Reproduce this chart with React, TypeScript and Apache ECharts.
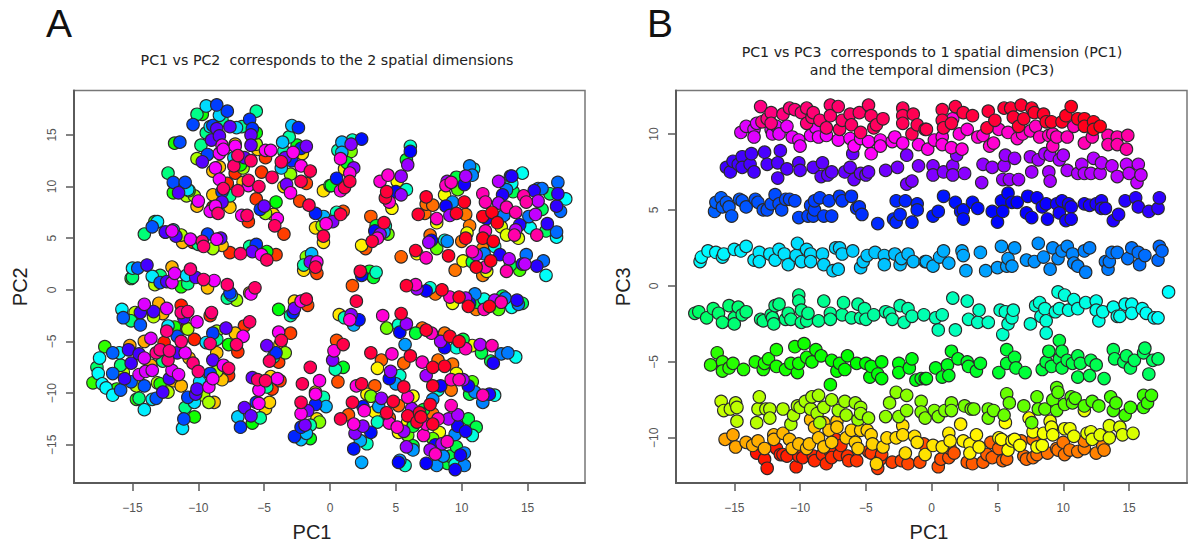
import React, { useEffect, useRef } from "react";
import * as echarts from "echarts";

type P = number[];

const xTicks = [-15, -10, -5, 0, 5, 10, 15];
const pc2Ticks = [-15, -10, -5, 0, 5, 10, 15];
const pc3Ticks = [-10, -5, 0, 5, 10];

// Panel A: [PC1, PC2, band]
const pcaTopLeft: P[] = [
[-9.4,17.8,5],[-8.6,17.9,6],[-7.8,17.3,6],[-10.1,17,4],[-9.7,17,3],[-8.4,16.9,5],[-5.6,17.3,4],[-10.4,16,6],[-8.2,16.4,4],[-6.1,16.5,6],[-8.9,15.9,6],[-6.7,15.8,4],[-7.6,15.8,7],[-7.1,15.7,5],[-5.9,15.6,6],[-9.4,15.2,4],[-9.1,15.8,5],[-8.6,15.6,7],[-8.4,14.9,7],[-9,14.5,7],[-6,15,7],[-5.6,15.2,3],[-11.4,14.3,6],[-11.8,14.2,3],[-9.8,14,4],[-9.3,13.1,6],[-9.7,12.4,7],[-10.1,12.7,2],[-8.2,14,8],[-7.2,14.1,1],[-7.2,13.9,8],[-5.6,14.1,2],[-6,14,7],[-5.5,13.6,1],[-4.9,13.5,8],[-4.5,13.5,8],[-4.9,12.8,0],[-8.4,13.2,8],[-8.1,13.6,8],[-7,13,9],[-6.5,12.8,7],[-6,12.5,9],[-7.3,12.8,5],[-6.6,11.8,2],[-6.8,12.1,3],[-7.3,12,9],[-7.2,11.3,0],[-8.7,11.8,8],[-8.4,11.9,1],[-8.9,11.5,1],
[-3.6,14.3,5],[-2.9,15.9,5],[-2.4,15.7,6],[-3.1,14.8,4],[-2.5,14,3],[-1.8,13.9,7],[-2.2,13.7,6],[-3.5,13.4,4],[-2.8,13.3,8],[-2.1,13.2,1],[-3.4,12.8,7],[-2.9,12.5,6],[-3.7,12.4,9],[-3.7,11.8,5],[-2.2,12,8],[-1.5,11.5,9],[-3,11.2,2],[-4.4,10.9,9],[-5.2,11.4,0],[-6.2,10.6,9],[-6.2,10.1,8],[-6.6,10.4,1],[-5.4,10,9],[-7,9.6,9],[-8.4,10.7,8],[-8.1,9.8,9],[-7.8,10.3,0],[-8.2,9.5,6],[-7.6,9.1,4],[-8.9,9.2,1],[-8.2,8.5,7],[-7.6,8,1],[-8.7,8.1,8],[-9.1,7.6,8],[-8.5,7.4,9],[-8.9,8,0],[-3.3,10.2,7],[-3,9.4,8],[-3.5,10,1],[-2.2,10.5,9],[-1.8,10.3,0],[-5.6,8.8,0],[-5,8.1,7],[-5.3,7.8,6],[-4.1,8.5,3],[-4.9,7.4,2],[-4.3,7.3,1],[-4,6.9,8],[-4.2,6.2,9],[-3.5,5.4,0],[-6.3,7.2,9],[-6.7,7.2,8],[-6.2,6.6,0],[-2.3,8.6,0],[-1.6,8.2,9],[-1.1,7.4,6],[-0.5,7.1,5],[-1.1,6,1],[-0.6,6.2,2],[-0.3,6.4,8],[-0.5,5.2,9],[-0.5,4.6,1],[-0.5,9.6,1],[0,10.1,3],
[-12.3,11.3,4],[-11.9,10.4,6],[-11,10.4,6],[-10.8,9.7,5],[-11.9,9.4,3],[-11.5,9.4,7],[-10.7,9.6,3],[-10.9,9.1,2],[-10.3,9.1,2],[-10,8.6,8],[-10.1,8.1,1],
[-13.3,6.6,3],[-13.1,6.6,5],[-13.5,6.1,6],[-14.1,5.4,4],[-12.5,5.6,3],[-12.5,5.6,7],[-11.9,5.8,5],[-12,5.7,8],[-11.7,5.2,7],[-11.3,5.3,2],[-11.2,4.6,1],[-10.6,4.9,8],[-10.4,4.6,0],[-10,4.4,4],[-9.7,4.7,9],[-9.6,4.2,9],[-9.3,5.4,6],[-8.9,4,2],[-8.6,4.9,8],[-8.3,5,7],[-8.2,4.3,1],[-7.6,3.6,0],[-6.8,3.5,9],[-6.1,4.2,4],[-5.6,4.4,6],[-5.9,3.7,7],[-5.2,3.4,8],[-4.8,3.7,3],[-4.8,2.9,9],[-4.1,3.4,0],[-1.4,3.5,5],[-2,2.4,4],[-1.5,2.7,7],[-2,1.9,1],[-1.1,2.2,9],[-1,1.6,0],[-1.8,3.2,2],[-1,2.7,8],
[-15,2.1,5],[-14.6,2.1,6],[-13.9,2.4,7],[-15.1,1.1,3],[-15,1.2,4],[-13.5,1.3,5],[-12.9,1.4,4],[-12,2.2,1],[-11.8,1.6,8],[-12,0.7,8],[-12.9,0.7,6],[-12.4,0.8,7],[-13.3,0.5,2],[-11.3,0.3,3],[-10.6,2,9],[-10.9,1.4,5],[-10.8,0.6,4],[-10.2,1.2,7],[-9.6,1,9],[-8.8,0.9,8],[-9.3,0.2,1],[-7.8,0.5,9],[-5.7,0.2,9],
];

const pcaBottomLeft: P[] = [
[-7.6,-0.3,6],[-7.8,-0.8,4],[-7.1,-1,2],[-7.5,-0.5,5],[-6,-0.4,8],[-6.1,-0.3,1],[-2.7,-1.1,1],[-1.8,-0.9,9],[-2.2,-1.1,8],[-1.7,-1.5,0],[-2.7,-1.8,7],[-2.8,-2.2,6],[-3,-2.5,4],[-3.9,-1.9,3],
[-15.8,-1.9,5],[-15.7,-2.7,6],[-15.1,-3,4],[-14.8,-2.2,2],[-14.1,-1.4,8],[-14.4,-2.2,7],[-14.4,-3.4,6],[-13,-1.3,1],[-13.4,-2.1,7],[-13.4,-2.6,2],[-12.7,-2.3,1],[-12.4,-1.8,8],[-11.3,-1.5,0],[-11.3,-2.2,9],[-10.8,-2.1,9],[-11.1,-2.7,7],[-10.1,-3.1,8],[-10.9,-3.7,0],[-10.8,-3.8,2],[-12.3,-3.5,5],[-11.8,-3.6,3],[-12.4,-4,9],[-11.6,-4.5,6],[-11.3,-5,9],[-10.3,-4.8,0],[-9,-2.2,9],[-9.1,-2.5,0],[-6.1,-3.1,9],[-6.5,-3.5,0],[-7.9,-3.7,7],[-8.6,-4,2],[-8.9,-4.2,6],[-7.2,-4.2,1],[-6.6,-4.5,8],[-7.1,-5.3,9],[-7.7,-5.3,3],[-7,-6,0],[-9.1,-5.2,9],[-8.6,-4.8,4],[-9.4,-5.1,5],[-8.6,-6.1,1],[-8.9,-6.8,7],[-8.1,-7.3,8],[-7.7,-7.6,9],[-7.7,-8.3,0],[-8.2,-8.7,1],[-8.6,-7.9,2],[-8.9,-8.6,8],[-9.1,-8.1,6],[-10.4,-7.1,9],[-10,-7.9,9],[-9.9,-8.9,5],[-9.2,-9.4,8],[-10.1,-9.6,7],[-10.2,-10.1,7],[-10.8,-10.4,6],[-9.6,-10.2,2],[-10.3,-10.9,5],[-8.8,-10.9,1],[-9.2,-10.9,2],[-11,-11.4,4],[-11.1,-12.5,6],[-10.3,-12.3,3],[-11.2,-13.4,5],
[-17.1,-5.5,3],[-17.5,-6.6,5],[-17.7,-7.5,4],[-17.6,-8.1,5],[-18,-9,3],[-17.3,-9.1,5],[-17,-9.5,5],[-16.5,-10.2,5],[-16.5,-6.1,6],[-16.5,-8.1,6],[-16,-6.1,5],[-15.9,-7.3,4],[-15.9,-9.7,6],[-15.6,-8.6,7],[-15.1,-7.1,7],[-15.3,-5.8,7],[-15.2,-5.4,1],[-15.7,-8,2],[-16.2,-9.6,3],[-15.1,-8.9,6],[-14.7,-9.3,2],[-14.5,-6.2,7],[-14.1,-6.6,8],[-14.1,-5,1],[-13.5,-7.8,8],[-14,-7.9,8],[-13.6,-7.3,1],[-14.5,-8.2,8],[-14.1,-9.3,6],[-13.6,-4.7,8],[-12.9,-5.8,9],[-12.6,-5.1,0],[-12.2,-5.9,9],[-12.3,-6.8,9],[-12.7,-6.9,4],[-13.2,-6.1,9],[-11.6,-6.1,7],[-11,-6.1,8],[-10.7,-6.6,1],[-12,-7.8,8],[-11.5,-8.2,8],[-12.2,-8.6,7],[-13.1,-9,2],[-12.9,-9.1,3],[-11.9,-8.8,1],[-11.3,-9.3,1],[-12.7,-9.9,7],[-12.3,-9.9,2],[-13.5,-10.6,5],[-13.2,-10.5,6],[-14.7,-10.6,3],[-14.5,-10.5,4],[-14.1,-11.6,5],
[-5.9,-8.5,7],[-5.5,-8.7,9],[-4.9,-8.8,9],[-4.5,-8.4,1],[-4,-8.6,8],[-3.8,-8.8,0],[-5.4,-9.7,8],[-4.4,-9.6,0],[-4.8,-9.4,4],[-5.6,-10.9,6],[-5.4,-11,8],[-4.6,-10.9,1],[-4.9,-11.5,1],[-6.5,-11.4,7],[-7,-12.3,5],[-6,-12.2,7],[-5.3,-12.4,4],[-5.9,-12.9,3],[-6.8,-13.3,6],[-4.8,-5.4,7],[-3.7,-4.9,9],[-3.9,-4.1,8],[-3,-4.2,0],[-3.8,-5.3,1],[-3.4,-6.1,2],[-4.1,-6.1,6],[-4.3,-6.5,4],[-4.6,-6.9,9],[-3.9,-7,0],[-1.5,-7.5,9],[-2.1,-9.1,9],[-0.8,-8.8,8],[-1.1,-10.1,8],[-1.1,-9.9,1],[-2.2,-10.9,9],[-1.1,-11.1,6],[-0.5,-10.4,4],[-0.3,-11.3,5],[-1.7,-11.7,7],[-2.2,-12,8],[-0.8,-12.8,2],[-1.9,-13.1,7],[-2.2,-13.3,6],[-1.8,-13.9,5],[-1.5,-14.4,3],[-2.7,-14.2,6],[-2.2,-14.5,5],[-1,-12.5,1],[-1.5,-13.1,4],
];

const pcaTopRight: P[] = [
[2.4,14.6,6],[0.9,14.3,5],[1.6,14.1,7],[1.7,14.5,4],[0.6,13.5,4],[0.9,13.3,5],[1.6,13.4,2],[0.8,12.7,8],[1.3,12.3,3],[1.8,11.8,7],[1.1,11.7,1],[1.5,11.3,8],[0.5,10.8,6],[1.5,10.5,9],[1.1,9.9,9],[0.8,9.6,8],[0.1,10.1,3],
[6.1,13.9,4],[6.1,13.4,6],[5.8,12.6,3],[5.9,12.1,7],[5.4,11,7],[4.4,11.1,8],[3.8,10.5,8],[5.8,9.7,4],[5.4,9.2,7],[5,9.5,6],[5.1,10.5,1],[4.3,9.5,9],[4.2,8.9,9],[4.5,8.5,8],[4.7,7.9,1],
[10.6,12,5],[10.9,11.7,4],[10.8,11.1,5],[10.3,11,7],[10.2,10.2,6],[9.6,10.9,3],[8.9,10.5,7],[8.8,10.1,8],[9.2,10.4,8],[9.7,9.7,2],[8.7,9.2,1],[7.3,9,9],[7.3,8.3,0],[7.8,8.2,0],[6.7,7.3,9],[7.2,7.4,0],[8.1,6.9,8],[8.1,6.5,1],[8.8,8.1,6],[9.3,8.5,5],[10.2,8.5,9],[9.1,7.2,7],[9.6,7.4,9],[10.3,7.3,0],[10.6,6.2,0],[10.4,5.5,1],[10.3,5,9],[10,4.7,0],
[3.1,7.1,0],[4.1,6.5,9],[4.2,6.2,4],[3.5,6.2,3],[3.4,5.7,6],[3.8,5.4,7],[4.1,5.6,5],[3.6,5,8],[4.4,5.4,2],[3.2,4.7,9],[2.4,4.3,1],[2.7,4,0],[1,7.6,0],[0.5,7.5,4],[0.8,7.3,9],[0.2,6.6,7],
[7.6,5.3,0],[7.5,4.6,7],[7.7,4.8,6],[8.1,4,2],[8.7,4.8,4],[8.9,4.7,5],[5.4,3.2,0],[6.5,3.8,9],[6.6,3.5,1],[7.3,3.1,8],[9,3.3,9],[10.8,3.7,8],[11.1,3.4,7],[11.6,4,0],[11.7,3.5,5],[12.5,4.2,4],[12.9,3.4,6],[12.2,2.8,9],[13.6,3,7],[10.1,2.8,1],[10.8,2.7,3],[11.1,2.2,9],[11.8,2.2,8],[11.9,1.8,1],[11.6,1.4,0],[9.5,1.9,0],[13.4,1.8,8],[14.4,1.9,2],[14.9,3.4,5],[14.6,2.5,6],[14.8,2.5,7],[15.7,2.3,6],[16.2,2.8,5],[16.4,1.4,4],[13.7,2.4,3],
[11.6,9.3,8],[11.8,8.5,8],[12.8,10.5,7],[13.8,11,6],[13.7,11,5],[14.6,11.3,4],[13.8,10.3,4],[13.4,9.7,5],[13.9,9.5,3],[13.1,9.2,6],[12.8,8.4,7],[12.3,7.5,9],[11.6,7.1,9],[11.9,6.9,6],[12.7,6.5,9],[13.4,8,8],[13.2,7.2,5],[13,6.1,1],[14.1,7.5,8],[14.7,9.1,8],[14.9,8.5,8],[15.5,9.6,6],[15.8,9.8,5],[16.1,9.8,5],[15.8,8.6,7],[16.7,9.3,3],[17.3,10.4,5],[17.3,9.3,6],[17.9,8.8,4],[17.2,8.1,6],[17.5,7.6,5],[16.1,7.8,3],[15.6,7.3,7],[15.1,7.1,5],[14.4,6.3,6],[15.2,6,4],[14.1,5.8,7],[16.5,6.4,6],[16.4,5.7,3],[17.2,5.6,5],[17.2,5.1,4],[15.7,5.3,8],[14,5.3,8],[14.3,5,1],[13.4,5.3,1],[11.6,5,9],[12.4,4.7,9],[11.8,5.7,8],
[2.3,1.8,9],[3.5,1.7,4],[3,1.8,3],[2.4,1.4,6],[3.3,1.2,3],
];

const pcaBottomRight: P[] = [
[1.7,0.4,0],[2,-1.1,9],[0.7,-2.4,1],[1.6,-2.4,7],[2.2,-2.9,6],[1.5,-2.9,8],[1.8,-3.4,5],[1.1,-2.7,4],[4,-2.5,8],[4.3,-3.7,2],[5.4,-2.3,9],[5.8,-3.3,7],[5.3,-4.1,6],[5.2,-3.4,4],[6.5,-4.2,3],[5.7,-5.3,5],[7.3,-3.9,9],[7.7,-4.2,8],[7,-3.7,0],
[5.8,0.4,9],[6.5,0.5,8],[6.6,0.1,7],[7.3,-0.1,6],[7.6,0.2,4],[8,-0.4,0],[8.5,0,9],[9.1,-0.7,8],[9.3,-1.3,1],[9.8,-0.7,9],[10.3,-0.8,7],[10.6,-1.3,6],[10.5,-1.6,9],[11,-0.4,5],[11.1,-1.9,0],[11.2,-1.2,3],[11.7,-0.9,4],[11.7,-1.9,8],[12.1,-1.6,9],[12.8,-1.9,2],[13.1,-0.6,3],[13.3,-0.8,5],[12.5,-1,7],[13,-1.2,8],[13.8,-1.7,4],[14.2,-1,6],[14.3,-1.4,5],[14.6,-1.3,3],
[8.7,-4.2,0],[9.1,-4.5,9],[8.4,-5,7],[8.7,-5.6,6],[9.6,-5.6,4],[9.8,-5,9],[10.1,-4.8,3],[10.3,-5.7,8],[10.8,-5.4,1],[11.4,-5.3,7],[12.3,-5.4,8],[11.5,-6.1,3],[12.4,-7.1,6],[12.2,-6.9,3],[13,-6.2,5],[13.5,-6.1,5],[14.1,-6.5,4],
[3.1,-6.1,9],[4.7,-6.2,8],[3.9,-6.8,0],[3.6,-7.6,1],[6.1,-6.4,9],[5.6,-7.1,0],[7,-7,8],[4.6,-7.9,7],[4.5,-8.6,6],[5.3,-8.3,4],[5,-9.1,5],[5.6,-9.4,9],[5.9,-10.4,8],[6.3,-10.3,1],[8.2,-6.8,0],[7.8,-7.5,9],[8.7,-7.4,9],[9.3,-7.2,0],[7.3,-8.3,7],[9.6,-8.1,1],[9.2,-8.7,8],[9.8,-8.7,8],[10.1,-8.7,7],[10.8,-8.9,2],[10.5,-9.3,6],[7.8,-9.3,9],[8.4,-9.3,6],[9.2,-9.7,0],[8.2,-9.7,4],[11,-9.9,5],[10.6,-10.1,3],[11.6,-10.2,8],[12.1,-10.1,6],[12.5,-10.2,4],[11.6,-10.9,5],
[0.6,-8.9,0],[1,-5.3,9],[0.5,-4.9,0],[0.3,-5.9,8],[0.2,-6.8,7],[1,-7.5,3],[0.4,-7.7,4],[2.4,-9.1,9],[2,-9.3,8],[3.4,-9.3,0],[3.1,-10.3,2],[2.8,-10.1,1],[3.9,-10.5,7],[1.7,-10.9,9],[2.5,-11.3,6],[2.6,-11.7,8],[3.7,-11.3,5],[3.4,-11.8,1],[4.8,-10.8,9],[5.2,-11.2,0],[4.3,-11.9,9],[4.5,-12.4,0],[3.6,-12.8,4],[0.8,-12.5,9],[1.4,-12.1,0],[1.8,-13,8],[2.5,-13.2,7],[1.9,-13.9,7],[3.1,-13.8,6],[2.3,-14.6,5],[2.8,-14.9,4],[1.8,-15.4,6],[2.4,-16.7,5],
[4.5,-12.9,8],[5.1,-13.3,8],[5.6,-13.7,7],[5.2,-13.8,1],[5.9,-14.1,2],[6.2,-11.5,7],[5.9,-12.2,9],[5.9,-12.8,1],[6.3,-13.2,3],[6.8,-11.9,9],[6.9,-12.3,9],[6.6,-12.8,9],[7.1,-11.6,3],[7.6,-11.1,9],[7.8,-10.6,5],[7.8,-12,0],[8.2,-12.5,8],[7.8,-13,9],[7.3,-13,8],[7.1,-14.1,8],[9.2,-11.2,8],[9.7,-12.1,7],[9,-12.5,7],[10.5,-12.5,3],[9.7,-13.2,6],[11.1,-13.3,3],[10.3,-13.7,6],[9.5,-14,5],[10.8,-14.1,4],[8.3,-13.8,1],[7.8,-14.4,2],[8.9,-14.7,8],[8.5,-14.9,7],[8,-15,6],[9.6,-15.2,3],[5.8,-15.2,7],[6.3,-15.5,5],[6.3,-15.1,3],[7.6,-15.5,7],[8,-15.9,8],[8.6,-16.1,5],[9.1,-16.1,3],[9.9,-16,6],[10.2,-15.8,5],[5.2,-16.7,6],[5.7,-17,4],[5.3,-16.5,5],[7.3,-16.8,6],[8.1,-17,5],[8.9,-16.8,3],[9.5,-17.4,6],[9.5,-16.9,4],[10.2,-17,5],
];

// Panel B: [PC1, PC3] by band
const pc3Band0: P[] = [
[-13.3,-11],[-12.7,-11.4],[-12.5,-12],[-11.8,-10.7],[-11.5,-11.1],[-11.3,-11.1],[-11,-11.2],[-10.3,-11.9],[-10.1,-11.2],[-9.8,-11.3],[-9,-11.2],[-8.9,-11.5],[-8.3,-11.1],[-8,-11.7],[-7.7,-10.9],[-7.6,-11.3],[-7.3,-10.1],[-6.9,-10.5],[-7,-11.1],[-6.4,-11.2],[-6.3,-11.5],[-5.7,-11.5],[-4.8,-10.9],[-4.6,-11],[-4.1,-12],[-3.8,-11.1],[-3.9,-11.4],[-3,-11.6],[-2.3,-11.5],[-1.8,-11.7],[-0.9,-11.6],[-0.6,-10.4],
[0.5,-11.9],[0.7,-11.4],[1.4,-10.7],[1.7,-11],[1.3,-11.3],[2.7,-11.6],[3.1,-11.7],[3.9,-11.6],[4.2,-11.1],[4.6,-11.3],[4.5,-10.3],[5.1,-10.7],[5.4,-11.5],[5.7,-11.4],[6.8,-10.2],[7,-11.2],[7.2,-11.4],[7.7,-10.1],[7.7,-11.3],[8,-11.1],[8.8,-11],[9.5,-10.7],[9.6,-10.8],[10.1,-11.1],[10,-10.3],[10.5,-10.8],[11.1,-10.9],[11.6,-10.7],[11.6,-10.2],[12.5,-11],[13,-10.5],[13.1,-10.8],
];
const pc3Band1: P[] = [
[-15.7,-10.1],[-15.1,-9.8],[-14.9,-10.6],[-14.1,-10.3],[-13.6,-10.5],[-13.2,-10.2],[-12.7,-10.7],[-12,-9.8],[-12,-10.1],[-11.3,-9.7],[-10.8,-10.1],[-10.1,-10.4],[-10.6,-10.7],[-9.5,-10.7],[-9.3,-10.4],[-8.6,-10],[-9.2,-8.8],[-8.9,-9.3],[-8.2,-9],[-7.8,-9.5],[-7.6,-10.3],[-8.2,-10.6],[-7.2,-8.9],[-7.2,-9.3],[-6.5,-10],[-6.1,-9.5],[-5.8,-10.3],[-5.6,-10.7],[-5.4,-9.5],[-4.9,-9.5],[-4.6,-9.8],[-4.5,-10.4],[-3.7,-10.6],[-4.2,-11.7],[-3.4,-10],[-2.7,-10],[-2.2,-9.2],[-2.2,-9.8],[-1.3,-9.9],[-1.1,-10.3],[-2,-11],[-0.5,-11.1],
[0.1,-10.5],[0.8,-10.6],[1.4,-10.2],[1.3,-9.7],[2.2,-9.1],[2.4,-10.2],[2.9,-10.4],[2.9,-11],[3.4,-9.8],[3.6,-10.6],[5.1,-10],[5.3,-10.1],[5.8,-10.8],[6.1,-10.2],[6.3,-10.1],[6.7,-10.5],[5.6,-9],[7.4,-8.7],[7.7,-9.6],[8,-10.6],[8.4,-10.5],[8.5,-9.7],[9,-8.9],[9.1,-9.3],[9.2,-9.8],[10.1,-9.4],[10.5,-9.4],[10.8,-9.9],[11.8,-9.7],[12.1,-9.6],[12.2,-10.1],[12.8,-9.8],[13.5,-10],[13.5,-9.2],[14.3,-9.3],[14.5,-9.8],[15.3,-9.7],[11.6,-8.2],
];
const pc3Band2: P[] = [
[-16,-7.6],[-15.8,-8.2],[-15.3,-8.1],[-14.9,-7.7],[-14.8,-8],[-14.8,-8.9],[-13.3,-9],[-13.2,-8.1],[-13.1,-7.3],[-12.6,-8.1],[-12.3,-8.1],[-12.3,-8.7],[-11.3,-8.1],[-10.5,-8.5],[-10.7,-9.1],[-10.2,-7.9],[-10,-8],[-9.6,-7.6],[-9.1,-7.3],[-9.2,-8.1],[-8.6,-7.2],[-8.7,-8.4],[-8.2,-8],[-8.5,-9],[-7.6,-7.5],[-7.1,-8.2],[-6.5,-8.5],[-6.6,-7.6],[-5.8,-7.7],[-5.4,-8],[-5.4,-8.4],[-5.6,-8.8],[-4.8,-8.7],[-3.2,-7.7],[-3.5,-8.6],[-2.7,-7],[-2.5,-8.6],[-1.9,-7.2],[-1.9,-8.2],[-0.8,-7.6],[-0.8,-8.3],[-0.5,-8.7],
[0.2,-8.2],[0.5,-8.6],[1,-8.2],[1.5,-7.7],[1.5,-8.2],[2.5,-7.9],[3,-8.1],[3.2,-8.1],[4.3,-8.1],[4.7,-8.2],[4.3,-8.7],[5.5,-8.5],[5.7,-7.1],[5.9,-7.7],[7,-7.9],[7.6,-9],[8,-7.3],[8.1,-8.1],[8.6,-8.1],[9.2,-7.5],[9.5,-8.2],[9.5,-6.7],[9.6,-7],[10.1,-7.8],[10.6,-7.3],[10.7,-7.7],[10.9,-7.4],[11.6,-7.9],[12.2,-7.6],[12.7,-7.9],[13.6,-7.3],[14,-7.7],[13.8,-8.2],[14.7,-8.5],[15.1,-8],[16.1,-8],[16.1,-7.2],[16.4,-7.7],[16.7,-7.2],
];
const pc3Band3: P[] = [
[-16.8,-5.2],[-16.3,-4.4],[-15.9,-5],[-15.9,-5.6],[-15.4,-5.4],[-15.1,-5.1],[-14.3,-5.5],[-13.4,-5],[-12.8,-5.5],[-12.7,-5.1],[-12.4,-4.8],[-11.8,-4.2],[-11.8,-5.3],[-11.1,-5.5],[-10.7,-5.1],[-10.4,-4],[-9.7,-3.8],[-10.1,-5.1],[-10.2,-5.7],[-9.5,-4.7],[-9.1,-5],[-8.8,-4.2],[-8.4,-4.6],[-7.6,-4.9],[-7.2,-5.6],[-7,-5.1],[-6.6,-5.5],[-6.4,-4.6],[-5.7,-5.1],[-5,-5.1],[-4.6,-5.3],[-4.7,-6],[-4.1,-5.8],[-3.8,-5],[-3.8,-6.1],[-2.5,-5.1],[-2.5,-5.7],[-1.7,-5.4],[-1.5,-4.8],[-1.2,-6.2],[-0.8,-6.1],[-0.5,-6.1],[-7.7,-6.5],
[-0.4,-6.1],[0.3,-5.4],[1.2,-5.2],[0.8,-6],[1.3,-5.9],[1.5,-4.3],[2,-4.8],[2.7,-5],[2.8,-5.3],[3.4,-5.6],[3.7,-5.1],[5.1,-5.7],[5.7,-4.2],[6.3,-4.7],[5.7,-5.1],[6.4,-5.4],[7.1,-5.7],[8.4,-5.5],[8.9,-4.3],[9.1,-5.3],[8.7,-5],[9.7,-3.6],[9.9,-4.3],[9.9,-5.4],[9.7,-4.8],[10.3,-4.9],[10.7,-5.1],[11.1,-4.6],[11.3,-5.1],[11.1,-6],[12.1,-4.9],[12,-5.9],[12.5,-5.2],[13.1,-6.1],[13.8,-4.2],[13.9,-4.8],[14.6,-5],[14.8,-4.6],[15.1,-5.4],[15.4,-4.9],[16.1,-4.4],[16.2,-4.1],[16.8,-4.9],[17.2,-4.8],[16.5,-5.8],
];
const pc3Band4: P[] = [
[-18,-1.8],[-17.7,-1.7],[-17.1,-2.1],[-16.6,-1.5],[-16.2,-1.8],[-15.9,-2.4],[-15.4,-1.3],[-14.7,-1.4],[-15,-2.1],[-15,-2.5],[-14.4,-1.9],[-14.1,-1.7],[-13,-2.2],[-12.8,-2.3],[-12.2,-1.9],[-11.9,-1.3],[-11.6,-1.2],[-12,-2.5],[-12.1,-2.1],[-11.1,-2.2],[-10.9,-1.8],[-10.7,-2.2],[-10.1,-0.6],[-10.1,-1],[-9.9,-1.6],[-9.9,-2.4],[-9.4,-1.8],[-9.5,-2.3],[-8.6,-2.3],[-8.2,-1],[-7.7,-1.8],[-7.7,-2.2],[-6.8,-1.9],[-6.7,-1.1],[-6.1,-2.1],[-5.6,-1.2],[-5.1,-1.5],[-5.4,-2.1],[-5,-2.2],[-4.4,-1.9],[-3.5,-1.7],[-3.2,-1.8],[-3,-2.2],[-2.4,-1.3],[-1.8,-1.5],[-1.5,-2],[-2.1,-2.4],[-0.6,-1.9],
[0.3,-2.1],[0.8,-1.9],[0.5,-2.9],[1.6,-0.8],[2.7,-1],[1.8,-2.9],[2.8,-2.2],[3.6,-1.6],[3.5,-2.4],[4.3,-2.4],[5.2,-1.6],[5.6,-1.7],[6.2,-1.6],[6.1,-2.1],[5.8,-2.5],[5.4,-3.2],[7.5,-2.5],[7.9,-1.3],[8.2,-1.1],[8.3,-2],[8.6,-1.5],[8.7,-2.3],[8.7,-3.1],[9.4,-1.7],[9.7,-1.5],[9.6,-0.4],[10.1,-0.6],[10.4,-1.6],[10.8,-0.9],[11.1,-1.5],[11.7,-1.1],[12.5,-1],[12.5,-1.6],[13,-1.7],[12.7,-2.3],[13.8,-1.4],[14.1,-2],[14.3,-2],[14.7,-1.2],[15.2,-1.2],[15.2,-1.8],[16,-1.5],[16.3,-1.8],[16.9,-2.1],[17.2,-2.1],[18,-0.4],
];
const pc3Band5: P[] = [
[-17.6,1.6],[-17.5,1.9],[-17,2.3],[-16.4,2.2],[-15.9,1.9],[-15.8,2.1],[-15,2.4],[-14.5,2.3],[-14.1,2.6],[-13.5,1.7],[-13.1,2.2],[-13.1,1.6],[-12.3,2.1],[-11.9,1.7],[-11.6,2.4],[-11.2,2.1],[-10.9,1.4],[-10.3,2],[-10.2,2.8],[-9.9,1.6],[-9.5,2.4],[-9.2,2.1],[-9.2,1.6],[-8.3,2.1],[-8.2,1.4],[-7.5,1],[-7.1,1.1],[-7.3,2.5],[-7,2.5],[-6.8,2.1],[-6,2.3],[-5.4,1.2],[-5.2,1.6],[-4.9,2],[-4.3,2.2],[-3.6,2],[-3.6,1.4],[-2.8,2.1],[-2.4,1.4],[-2.3,1.8],[-1.8,2.1],[-1.4,1.6],[-0.5,1.6],
[-0.4,1.6],[0.1,1.3],[0.6,1.9],[0.9,2.3],[1.3,1.5],[2.3,2.3],[2.4,2],[2.6,1],[3.7,2.2],[4.1,1],[5,1.2],[5.3,2.6],[5.8,1.8],[5.7,1.3],[6.1,1.3],[6.3,2.5],[7.2,1.7],[7.8,1.6],[8.1,2.8],[8.5,1.9],[9,1.1],[9.2,2.5],[9.6,1.8],[9.9,2.3],[10.3,2.6],[10.7,2.1],[10.8,1.5],[11.1,1.3],[11.7,0.9],[11.6,2.3],[12,2.5],[13.2,1.6],[13.5,1.6],[13.4,1.1],[13.7,2.2],[14.1,2.2],[14.9,1.8],[15.2,2.5],[15.7,2.2],[15.8,1.4],[16.2,2],[17.2,1.7],[17.5,2.3],[17.3,2.6],
];
const pc3Band6: P[] = [
[-16.5,4.9],[-16,5.8],[-15.6,5.5],[-16.4,5.5],[-15.9,5.2],[-15.4,5.2],[-15.2,4.6],[-14.6,5.7],[-14.4,5.6],[-14.1,5.2],[-13.4,5.7],[-13.2,5.5],[-12.8,5],[-12.5,5],[-12.2,5.4],[-11.9,6],[-11.6,5.4],[-11.4,5],[-11.1,5.7],[-10.8,5.7],[-10.4,5.6],[-10.1,4.5],[-9.4,4.6],[-9.2,5.3],[-8.9,5],[-9,4.6],[-8.9,5.6],[-8.5,5.8],[-7.8,5.6],[-8.2,4.6],[-7.6,4.6],[-7,5.9],[-6.8,5.6],[-6.1,5.9],[-5.7,5.1],[-5.5,5.2],[-5.3,4.7],[-4.1,4.1],[-2.7,5.6],[-2,5.6],[-2.4,4.7],[-2.9,4.4],[-2.7,4.2],[-1.5,4.2],[-1.1,5.4],[-1.1,5],
[0.1,4.6],[0.5,4.9],[0.9,5.9],[1.8,5.5],[2.4,5],[2.2,4.9],[2.4,4.4],[3.1,5.5],[3.5,5.1],[4.6,4.9],[5.4,4.9],[5,4.2],[5.3,5.6],[5.8,6.1],[6.1,5.5],[6.5,5.5],[7.3,5.9],[7.2,4.8],[7.6,4.5],[8,5.8],[8.4,5.2],[8.7,5.4],[8.8,4.4],[9.5,5.4],[9.9,5.6],[9.7,4.8],[10.4,5.4],[10.6,5.2],[10.2,4.3],[10.6,4.4],[11.6,5.4],[12,5.3],[12.5,5.4],[12.9,5.6],[12.9,5.1],[13.2,5.1],[13.8,4.3],[14.2,4.7],[14.7,5.6],[15.5,5.8],[15.7,5.2],[16.5,4.9],[17.2,5.1],[17.3,5.8],
];
const pc3Band7: P[] = [
[-15.6,7.8],[-15.1,8.2],[-14.7,8],[-15.3,7.5],[-14.4,8.5],[-14.4,7.8],[-13.8,8],[-13.7,8.7],[-13.5,7.5],[-12.7,8.8],[-11.5,8.9],[-12.5,8],[-11.7,8.1],[-11,7.7],[-11.7,7.1],[-10.1,8.1],[-10,7.6],[-9,7.8],[-8.3,8.1],[-8.4,7.2],[-7.9,7.3],[-7.6,7.5],[-6.6,7.5],[-6.2,7.8],[-5.9,7],[-5.4,7.4],[-4.8,7.5],[-5,7.3],[-3.5,7.6],[-2.6,7.8],[-1.9,8.6],[-1.5,6.9],[-1.9,6.7],[-1,7.9],[-6,8.7],
[0.1,7.9],[0.1,7.3],[0.9,7.5],[1.6,7.9],[1.6,7.3],[2.5,7.4],[1.9,8.6],[3.8,6.8],[3.9,8],[4.6,7.8],[5.6,8.6],[6.3,8.4],[5.5,7.9],[5.4,7],[5.9,7],[6.6,7],[7.5,8.5],[8.1,8.3],[7.6,7.5],[8.9,7.5],[9,6.9],[8.6,8.7],[9,8.6],[10,8.6],[9.7,8.3],[10.3,7.6],[11.1,7.4],[11.4,8],[11.6,7.4],[12.1,7.4],[12.8,7.4],[12.3,8.4],[12.9,8.1],[13.7,7.9],[14.1,7.2],[14.8,8],[15.7,8],[15,7.4],[15.9,7.3],[15.6,6.8],
];
const pc3Band8: P[] = [
[-14.5,10.1],[-14.1,10.5],[-13.5,10.3],[-13.5,9.8],[-13.3,10.7],[-12.2,10.3],[-11.8,10.5],[-11.6,10],[-11,10.5],[-12.1,10],[-10.6,9.8],[-10.1,9.6],[-10,9.2],[-9.2,9.9],[-8.8,10.4],[-8.6,9.8],[-8,9.9],[-7.1,9.6],[-6.2,9.7],[-5.9,9.2],[-5.4,9.7],[-4.8,9.5],[-4.6,8.7],[-3.9,9.6],[-3.9,9.2],[-3,9.5],[-2.8,9.8],[-2.2,9.4],[-1,9.3],[-0.3,9],
[0.2,9.6],[0.8,9.8],[0.8,9.3],[1.5,9.1],[2.3,9],[2.1,10],[2.7,10.3],[1.6,11],[3.5,9.8],[3.9,9.9],[4.4,9.2],[4.7,9.4],[5.1,10.3],[5.8,10.1],[6.5,9.7],[6.9,10],[7.5,10.2],[7.9,10.5],[8.2,9.8],[8.9,9.9],[9.2,10],[9.2,9.2],[9.5,9.8],[10.3,9.8],[10.8,10.5],[11.6,9.4],[12.2,9.8],[13.4,9.9],[14.1,9.8],[13.4,9.3],[14.1,9.3],[14.9,9.9],[14.8,9],
];
const pc3Band9: P[] = [
[-13,11.8],[-12.2,11.4],[-11.3,11.3],[-10.8,11.7],[-10.4,11.6],[-9.9,11.4],[-9.5,11.7],[-9,11.4],[-9.1,11.1],[-9.5,10.7],[-8.5,10.9],[-7.7,11.9],[-7.1,11.8],[-7.7,11.2],[-8,10.4],[-6.2,11.3],[-5.5,11.4],[-4.8,11.9],[-4.6,11.2],[-3.7,11],[-4.2,10.6],[-4.4,10.4],[-6.8,10.9],[-6.1,10.6],[-7,10.3],[-5.4,10.1],[-2.2,11.7],[-1.4,11.3],[-2.2,11.2],[-2.2,10.7],[-1.1,10.6],[-1.5,10],[-0.5,10.3],[-12.2,10.7],[-12.9,10.8],[-12.5,11],
[-0.4,10.3],[0.8,11.6],[1.8,11.8],[2.4,11.4],[3.1,11.2],[0.8,10.9],[1.5,10.7],[0.9,10.4],[4.3,11.5],[4.8,10.9],[5.5,11.7],[6,11.7],[6.2,11.1],[6.8,11.9],[7.6,11.7],[7.8,11.4],[7,11],[6.6,10.5],[4.2,10.4],[8.5,11.3],[8.7,10.8],[9.1,10.8],[9.9,10.8],[10.2,11.2],[10.6,11.8],[11.1,11],[11.6,11],[12.3,10.8],[12.8,10.5],[12.3,10.3],[11.6,10.5],
];

const pcaPoints = [...pcaTopLeft, ...pcaBottomLeft, ...pcaTopRight, ...pcaBottomRight];
const pc3Bands = [pc3Band0, pc3Band1, pc3Band2, pc3Band3, pc3Band4, pc3Band5, pc3Band6, pc3Band7, pc3Band8, pc3Band9];

const hueOf = (pc1: number, band: number) => 36 * band + pc1 + 18;
const byHue = (a: number[], b: number[]) => a[2] - b[2];
const seriesA = pcaPoints.map(([x, y, b]) => [x, y, hueOf(x, b)]).sort(byHue);
const seriesB = pc3Bands
  .flatMap((pts, b) => pts.map(([x, y]) => [x, y, hueOf(x, b)]))
  .sort(byHue);

const FONT = "'Liberation Sans', Arial, sans-serif";
const TITLE_FONT = "'DejaVu Sans', sans-serif";
const AXIS = "#5a5a5a";
const minusFmt = (v: number) => String(v).replace("-", "\u2212");

function xAxis(gridIndex: number, min: number, max: number, shift: number) {
  return {
    type: "value", gridIndex, min, max, name: "PC1", nameLocation: "middle", nameGap: 39,
    nameTextStyle: { fontFamily: FONT, fontSize: 20, color: "#222", padding: [0, shift, 0, 0] },
    splitLine: { show: false },
    axisLine: { show: true, onZero: false, lineStyle: { color: AXIS, width: 2 } },
    axisTick: { show: true, length: 8, customValues: xTicks, lineStyle: { color: AXIS, width: 1.5 } },
    axisLabel: { customValues: xTicks, margin: 19, fontFamily: FONT, fontSize: 12, color: "#555", formatter: minusFmt },
  };
}
function yAxis(gridIndex: number, min: number, max: number, name: string, ticks: number[], gap: number) {
  return {
    type: "value", gridIndex, min, max, name, nameLocation: "middle", nameGap: gap,
    nameTextStyle: { fontFamily: FONT, fontSize: 20, color: "#222" },
    splitLine: { show: false },
    axisLine: { show: true, onZero: false, lineStyle: { color: AXIS, width: 2 } },
    axisTick: { show: true, length: 8, customValues: ticks, lineStyle: { color: AXIS, width: 1.5 } },
    axisLabel: { customValues: ticks, rotate: 90, margin: 16, fontFamily: FONT, fontSize: 12, color: "#555", formatter: minusFmt },
  };
}
function scatter(index: number, data: number[][]) {
  return {
    type: "scatter", xAxisIndex: index, yAxisIndex: index, data, symbolSize: 12.5, silent: true,
    itemStyle: {
      borderColor: "#2a2a2a", borderWidth: 1.1, opacity: 1,
      color: (p: any) => `hsl(${p.value[2]}, 100%, 50%)`,
    },
  };
}

export default function App() {
  const ref = useRef<HTMLDivElement>(null);
  useEffect(() => {
    const chart = echarts.init(ref.current!, undefined, { renderer: "svg" });
    chart.setOption({
      animation: false,
      backgroundColor: "#fff",
      title: [
        { text: "A", left: 41, top: -1, textStyle: { fontFamily: FONT, fontSize: 39, fontWeight: "normal", color: "#111" } },
        { text: "B", left: 642, top: -1, textStyle: { fontFamily: FONT, fontSize: 39, fontWeight: "normal", color: "#111" } },
        { text: "PC1 vs PC2  corresponds to the 2 spatial dimensions", left: 322, top: 48, textAlign: "center", textStyle: { fontFamily: TITLE_FONT, fontSize: 14.2, fontWeight: "normal", color: "#222" } },
        { text: "PC1 vs PC3  corresponds to 1 spatial dimension (PC1)", left: 927, top: 40, textAlign: "center", textStyle: { fontFamily: TITLE_FONT, fontSize: 14.2, fontWeight: "normal", color: "#222" } },
        { text: "and the temporal dimension (PC3)", left: 927, top: 58, textAlign: "center", textStyle: { fontFamily: TITLE_FONT, fontSize: 14.2, fontWeight: "normal", color: "#222" } },
      ],
      grid: [
        { left: 74, top: 90.5, width: 511, height: 396.5, show: true, borderColor: "#777", borderWidth: 1.5, backgroundColor: "#fff" },
        { left: 676, top: 90.5, width: 511, height: 396.5, show: true, borderColor: "#777", borderWidth: 1.5, backgroundColor: "#fff" },
      ],
      xAxis: [xAxis(0, -19.44, 19.36, 35), xAxis(1, -19.43, 19.4, 5)],
      yAxis: [yAxis(0, -18.7, 19.3, "PC2", pc2Ticks, 44), yAxis(1, -12.97, 12.86, "PC3", pc3Ticks, 43)],
      series: [scatter(0, seriesA), scatter(1, seriesB)],
    });
    return () => chart.dispose();
  }, []);
  return <div ref={ref} style={{ position: "fixed", left: 0, top: 0, width: 1188, height: 547 }} />;
}
